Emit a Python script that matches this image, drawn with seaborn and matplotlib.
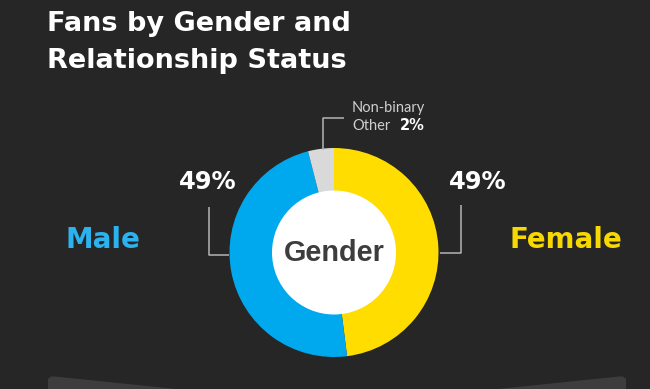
import matplotlib
matplotlib.use("Agg")
import matplotlib.pyplot as plt
import seaborn as sns
from matplotlib.patches import Circle, Polygon

# Gender split, as shown in the graphic
segments = ["Female", "Male", "Non-binary Other"]
arc_shares = [48, 48, 4]          # arc sizes as drawn in the donut
pct_labels = ["49%", "49%", "2%"]  # printed percentages
colors = ["#FFDD00", "#00A9EE", "#D9D9D9"]

title_lines = ["Fans by Gender and", "Relationship Status"]

BG = "#262626"
W, H = 650, 389

sns.set_theme(style="dark", rc={"axes.facecolor": BG, "figure.facecolor": BG})
plt.rcParams["font.family"] = ["DejaVu Sans"]


def py(y):
    # convert a top-down pixel row to data y
    return H - y


fig = plt.figure(figsize=(6.5, 3.89), dpi=100)
ax = fig.add_axes([0, 0, 1, 1])

cx, cy, r_out, r_in = 334, 252.5, 104.5, 62
ax.pie(arc_shares, colors=colors, startangle=90, counterclock=False,
       center=(cx, py(cy)), radius=r_out, frame=True,
       wedgeprops=dict(linewidth=0))
ax.add_patch(Circle((cx, py(cy)), r_in, facecolor="white", edgecolor="none", zorder=3))
ax.text(cx, py(260.7), "Gender", ha="center", va="baseline", fontsize=20.8,
        fontweight="bold", color="#3d3d3d", family="Liberation Sans", zorder=4)

# title
ax.text(47, py(30.5), title_lines[0], ha="left", va="baseline", fontsize=19.5,
        fontweight="bold", color="white")
ax.text(47, py(67.5), title_lines[1], ha="left", va="baseline", fontsize=19.5,
        fontweight="bold", color="white")

line_kw = dict(color="#b5b5b5", linewidth=1.1, solid_capstyle="butt")

# Female (right)
ax.plot([440, 460.7, 460.7], [py(253), py(253), py(205)], **line_kw)
ax.text(449, py(188.5), pct_labels[0], ha="left", va="baseline", fontsize=17.4,
        fontweight="bold", color="white")
ax.text(510, py(247.5), segments[0], ha="left", va="baseline", fontsize=20,
        fontweight="bold", color="#F7D800")

# Male (left)
ax.plot([229, 209, 209], [py(255), py(255), py(207)], **line_kw)
ax.text(179, py(189), pct_labels[1], ha="left", va="baseline", fontsize=17.4,
        fontweight="bold", color="white")
ax.text(66, py(248.3), segments[1], ha="left", va="baseline", fontsize=20,
        fontweight="bold", color="#2BB2EF")

# Non-binary / Other (top)
ax.plot([323.3, 323.3, 344], [py(150), py(118.3), py(118.3)], **line_kw)
ax.text(352, py(111.7), "Non-binary", ha="left", va="baseline", fontsize=10.5,
        color="#cfcfcf", family="Lato")
ax.text(352, py(130), "Other", ha="left", va="baseline", fontsize=10.5,
        color="#cfcfcf", family="Lato")
ax.text(425, py(130), pct_labels[2], ha="right", va="baseline", fontsize=10.5,
        fontweight="bold", color="white")

# partial shapes of the next panel at the bottom edge
ax.add_patch(Polygon([(48, py(392)), (48, py(379)), (51, py(376.5)), (55, py(376.5)),
                      (205, py(392))], closed=True, facecolor="#3d3d3d", edgecolor="none"))
ax.add_patch(Polygon([(626, py(392)), (626, py(379)), (623, py(376.5)), (619, py(376.5)),
                      (469, py(392))], closed=True, facecolor="#3d3d3d", edgecolor="none"))

ax.set_xlim(0, W)
ax.set_ylim(0, H)
ax.set_aspect("equal")
ax.axis("off")

fig.savefig("out.png", dpi=100, facecolor=BG)
